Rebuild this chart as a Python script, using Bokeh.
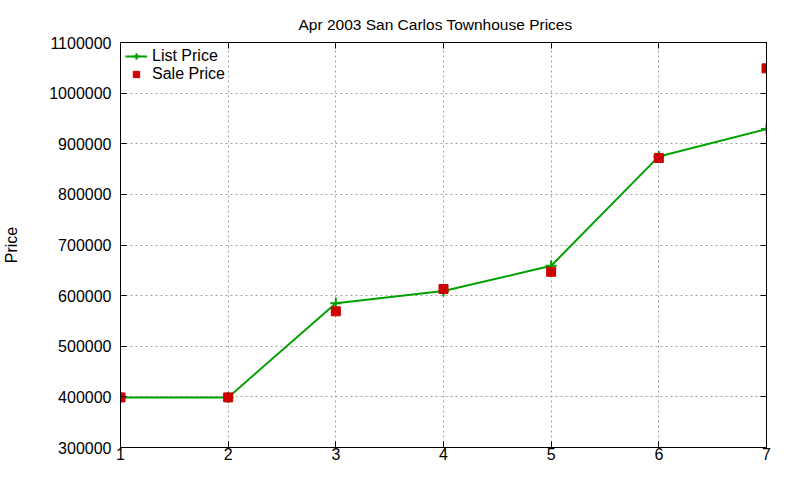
from bokeh.plotting import figure
from bokeh.models import (LinearAxis, FixedTicker, Range1d, Legend, LegendItem,
                          BasicTickFormatter, CustomJSTickFormatter)
from bokeh.embed import file_html
from bokeh.resources import INLINE

# Data
x_vals = [1, 2, 3, 4, 5, 6, 7]
list_price = [399000, 399000, 585000, 609000, 659000, 875000, 929000]
sale_price = [399000, 399000, 569000, 613000, 647000, 872000, 1049000]
x_ticks = [1, 2, 3, 4, 5, 6, 7]
y_ticks = [300000, 400000, 500000, 600000, 700000, 800000, 900000, 1000000, 1100000]
title_text = "Apr 2003 San Carlos Townhouse Prices"
y_label = "Price"

FONT = "Liberation Sans"
FS = "16px"

p = figure(width=784, height=464, output_backend="svg", toolbar_location=None,
           x_range=Range1d(1, 7), y_range=Range1d(300000, 1100000),
           min_border_left=119, min_border_right=18, min_border_top=42,
           min_border_bottom=17, x_axis_location=None, y_axis_location=None)

p.title.text = title_text
p.title.text_font = FONT
p.title.text_font_size = "15.5px"
p.title.text_font_style = "normal"
p.title.text_color = "black"
p.title.align = "left"
p.title.offset = 178
p.title.standoff = 19

p.outline_line_color = "black"
p.outline_line_width = 1
p.background_fill_color = "white"
p.border_fill_color = "white"

def style_axis(ax, show_labels):
    ax.major_tick_in = 6
    ax.major_tick_out = 0
    ax.minor_tick_line_color = None
    ax.axis_line_color = "black"
    ax.major_tick_line_color = "black"
    ax.major_label_text_font = FONT
    ax.major_label_text_font_size = FS
    ax.major_label_text_color = "black"
    if not show_labels:
        ax.major_label_text_font_size = "0px"
        ax.major_label_standoff = 0

xb = LinearAxis(ticker=FixedTicker(ticks=x_ticks))
style_axis(xb, True)
xb.major_label_standoff = 0
p.add_layout(xb, "below")

yl = LinearAxis(ticker=FixedTicker(ticks=y_ticks),
                formatter=BasicTickFormatter(use_scientific=False))
style_axis(yl, True)
yl.major_label_standoff = 9
yl.axis_label = y_label
yl.axis_label_text_font = FONT
yl.axis_label_text_font_size = FS
yl.axis_label_text_font_style = "normal"
yl.axis_label_text_color = "black"
yl.axis_label_standoff = 26
p.add_layout(yl, "left")

xt = LinearAxis(ticker=FixedTicker(ticks=x_ticks),
                formatter=CustomJSTickFormatter(code="return ''"))
style_axis(xt, False)
p.add_layout(xt, "above")

yr = LinearAxis(ticker=FixedTicker(ticks=y_ticks),
                formatter=CustomJSTickFormatter(code="return ''"))
style_axis(yr, False)
p.add_layout(yr, "right")

p.xgrid.ticker = FixedTicker(ticks=x_ticks)
p.ygrid.ticker = FixedTicker(ticks=y_ticks)
for g in (p.xgrid, p.ygrid):
    g.grid_line_color = "#a0a0a0"
    g.grid_line_dash = "2 3"
    g.grid_line_width = 1

GREEN = "#00a000"
RED = "#cc0000"

lr = p.line(x_vals, list_price, line_color=GREEN, line_width=2)
cr = p.scatter(x_vals, list_price, marker="cross", size=11, line_color=GREEN, line_width=2)
sr = p.scatter(x_vals, sale_price, marker="square", size=9, fill_color=RED, line_color=RED)

legend = Legend(items=[LegendItem(label="List Price", renderers=[lr, cr]),
                       LegendItem(label="Sale Price", renderers=[sr])],
                location="top_left", margin=5, padding=0, spacing=0,
                glyph_width=22, glyph_height=16, label_height=16,
                label_standoff=5, label_text_font=FONT, label_text_font_size=FS,
                label_text_color="black",
                background_fill_alpha=0, border_line_color=None)
p.add_layout(legend, "center")

open("out.html", "w").write(file_html(p, INLINE))
